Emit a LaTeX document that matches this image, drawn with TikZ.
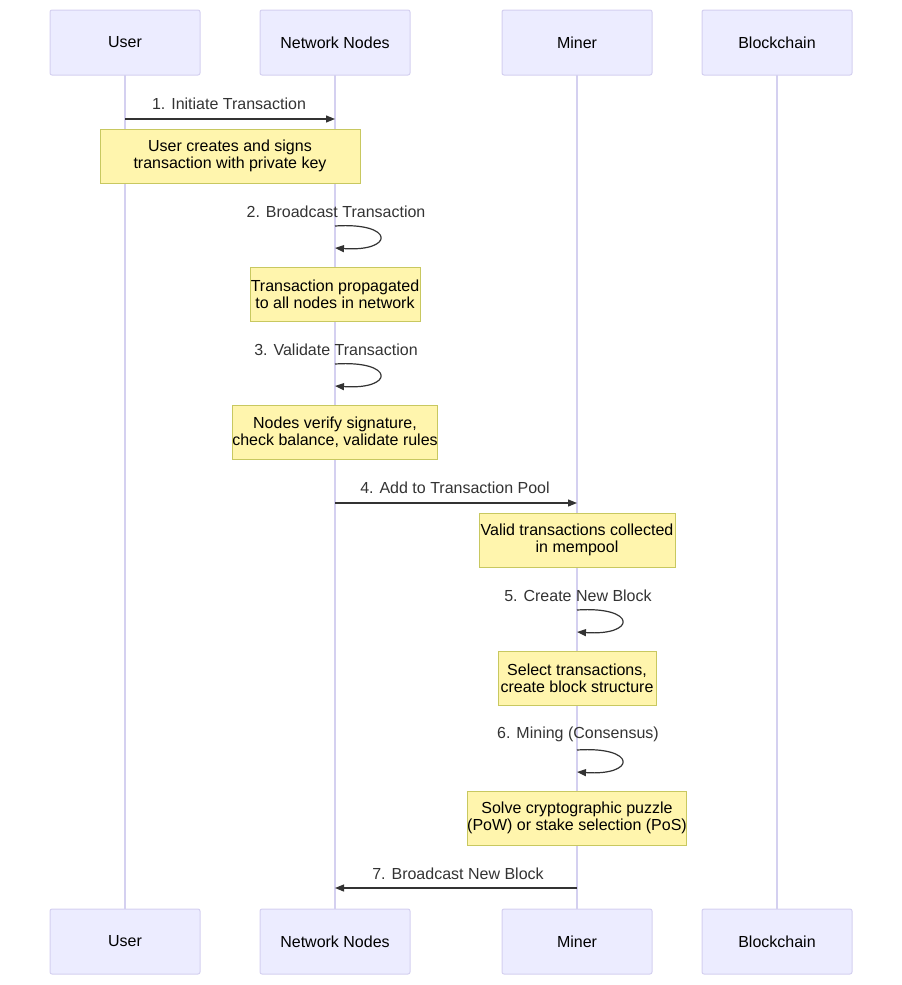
\documentclass[tikz,border=0pt]{standalone}
\usepackage{fontspec}
\setmainfont{Liberation Sans}
\usetikzlibrary{arrows.meta}
\definecolor{actfill}{HTML}{ECECFF}
\definecolor{actdraw}{HTML}{D4D0F0}
\definecolor{notefill}{HTML}{FFF5AD}
\definecolor{notedraw}{HTML}{C8C860}
\definecolor{txt}{HTML}{333333}
\begin{document}
\begin{tikzpicture}[x=1pt,y=-1pt,
  actor/.style={draw=actdraw,fill=actfill,line width=1pt,minimum width=150pt,minimum height=65pt,inner sep=0pt,font=\fontsize{16}{18}\selectfont,rounded corners=2pt},
  note/.style={draw=notedraw,fill=notefill,line width=1pt,minimum height=54pt,inner sep=0pt,align=center,font=\fontsize{16}{17}\selectfont},
  life/.style={draw=actdraw,line width=1.5pt},
  msg/.style={draw=txt,line width=1.2pt,-{Triangle[length=9pt,width=7pt]}},
  lbl/.style={text=txt,font=\fontsize{16}{18}\selectfont}]
\useasboundingbox (0,0) rectangle (902,985);
\foreach \n/\x/\t in {u/125/User/Initiator,n/335/Network Nodes,m/577/Miner/Validator,b/777/Blockchain}{
  \draw[life] (\x,75) -- (\x,909);
  \node[actor] (\n top) at (\x,42.5) {\t};
  \node[actor] (\n bot) at (\x,941.5) {\t};
}
% messages
\coordinate (a1) at (125,119); \coordinate (b1) at (335,119);
\node[lbl] (l1) at (229,104) {1. Initiate Transaction};
\draw[msg] (a1) -- (b1);
\node[note,minimum width=260pt] (n1) at (230,156) {User creates and signs\\transaction with private key};
\node[lbl] (l2) at (336,212) {2. Broadcast Transaction};
\coordinate (s2) at (335,226); \coordinate (e2) at (335,248);
\draw[msg] (s2) .. controls (395,222) and (395,252) .. (e2);
\node[note,minimum width=170pt] (n2) at (335,294) {Transaction propagated\\to all nodes in network};
\node[lbl] (l3) at (336,350) {3. Validate Transaction};
\coordinate (s3) at (335,364); \coordinate (e3) at (335,386);
\draw[msg] (s3) .. controls (395,360) and (395,390) .. (e3);
\node[note,minimum width=204pt] (n3) at (335,432) {Nodes verify signature,\\check balance, validate rules};
\node[lbl] (l4) at (455,488) {4. Add to Transaction Pool};
\coordinate (a4) at (335,503); \coordinate (b4) at (577,503);
\draw[msg] (a4) -- (b4);
\node[note,minimum width=196pt] (n4) at (577,540) {Valid transactions collected\\in mempool};
\node[lbl] (l5) at (578,596) {5. Create New Block};
\coordinate (s5) at (577,610); \coordinate (e5) at (577,632);
\draw[msg] (s5) .. controls (637,606) and (637,636) .. (e5);
\node[note,minimum width=158pt] (n5) at (577,678) {Select transactions,\\create block structure};
\node[lbl] (l6) at (578,734) {6. Mining (Consensus)};
\coordinate (s6) at (577,750); \coordinate (e6) at (577,772);
\draw[msg] (s6) .. controls (637,746) and (637,776) .. (e6);
\node[note,minimum width=218pt] (n6) at (577,818) {Solve cryptographic puzzle\\(PoW) or stake selection (PoS)};
\node[lbl] (l7) at (458,874) {7. Broadcast New Block};
\coordinate (a7) at (577,888); \coordinate (b7) at (335,888);
\draw[msg] (a7) -- (b7);
\end{tikzpicture}
\end{document}
